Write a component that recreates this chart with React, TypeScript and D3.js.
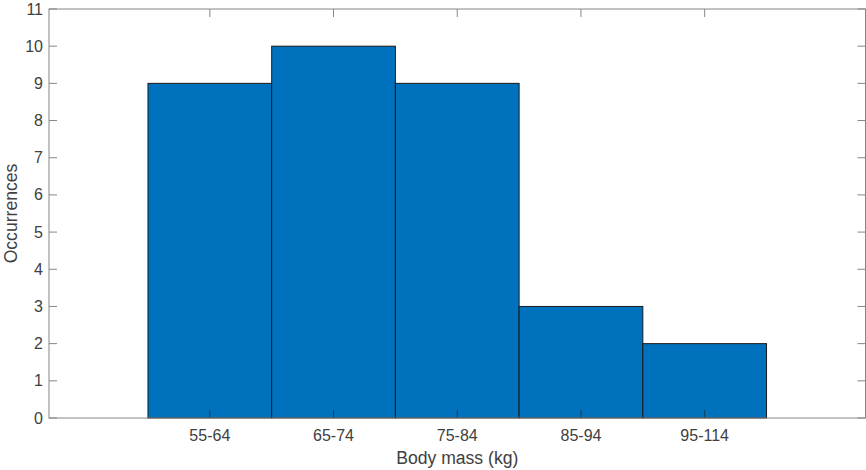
import React from "react";
import * as d3 from "d3";

const categories: string[] = ["55-64", "65-74", "75-84", "85-94", "95-114"];
const counts: number[] = [9, 10, 9, 3, 2];
const yTicks: number[] = [0, 1, 2, 3, 4, 5, 6, 7, 8, 9, 10, 11];
const xLabel = "Body mass (kg)";
const yLabel = "Occurrences";

const W = 866;
const H = 470;
const L = 49;
const R = 865.5;
const T = 9;
const B = 418;
const TICK = 8;

export default function App() {
  const x = d3.scaleLinear().domain([-1.3, categories.length - 1 + 1.3]).range([L, R]);
  const y = d3.scaleLinear().domain([0, 11]).range([B, T]);
  const font = "'Liberation Sans', Arial, Helvetica, sans-serif";
  const axisColor = "#868686";
  const textColor = "#404040";
  return (
    <svg width={W} height={H} style={{ position: "absolute", left: 0, top: 0, background: "#fff" }}>
      <rect x={0} y={0} width={W} height={H} fill="#fff" />
      {counts.map((c, i) => (
        <rect
          key={i}
          x={x(i - 0.5)}
          y={y(c)}
          width={x(i + 0.5) - x(i - 0.5)}
          height={y(0) - y(c)}
          fill="#0072BD"
          stroke="#1a1a1a"
          strokeWidth={1}
        />
      ))}
      {/* ticks */}
      {yTicks.map((t) => (
        <g key={"y" + t}>
          <line x1={L} x2={L + TICK} y1={y(t)} y2={y(t)} stroke={axisColor} strokeWidth={1} />
          <line x1={R} x2={R - TICK} y1={y(t)} y2={y(t)} stroke={axisColor} strokeWidth={1} />
          <text
            x={43}
            y={y(t)}
            textAnchor="end"
            dominantBaseline="central"
            fontFamily={font}
            fontSize={16}
            fill={textColor}
          >
            {t}
          </text>
        </g>
      ))}
      {categories.map((c, i) => (
        <g key={"x" + c}>
          <line x1={x(i)} x2={x(i)} y1={B} y2={B - TICK} stroke={counts[i] > 0 ? "#1a1a1a" : axisColor} strokeWidth={1} opacity={0.6} />
          <line x1={x(i)} x2={x(i)} y1={T} y2={T + TICK} stroke={axisColor} strokeWidth={1} />
          <text x={x(i)} y={441} textAnchor="middle" fontFamily={font} fontSize={16} fill={textColor}>
            {c}
          </text>
        </g>
      ))}
      <rect x={L} y={T} width={R - L} height={B - T} fill="none" stroke={axisColor} strokeWidth={1} />
      <text x={(L + R) / 2} y={464} textAnchor="middle" fontFamily={font} fontSize={17.6} fill={textColor}>
        {xLabel}
      </text>
      <text
        transform={`translate(17, ${(T + B) / 2}) rotate(-90)`}
        textAnchor="middle"
        fontFamily={font}
        fontSize={17.6}
        fill={textColor}
      >
        {yLabel}
      </text>
    </svg>
  );
}
